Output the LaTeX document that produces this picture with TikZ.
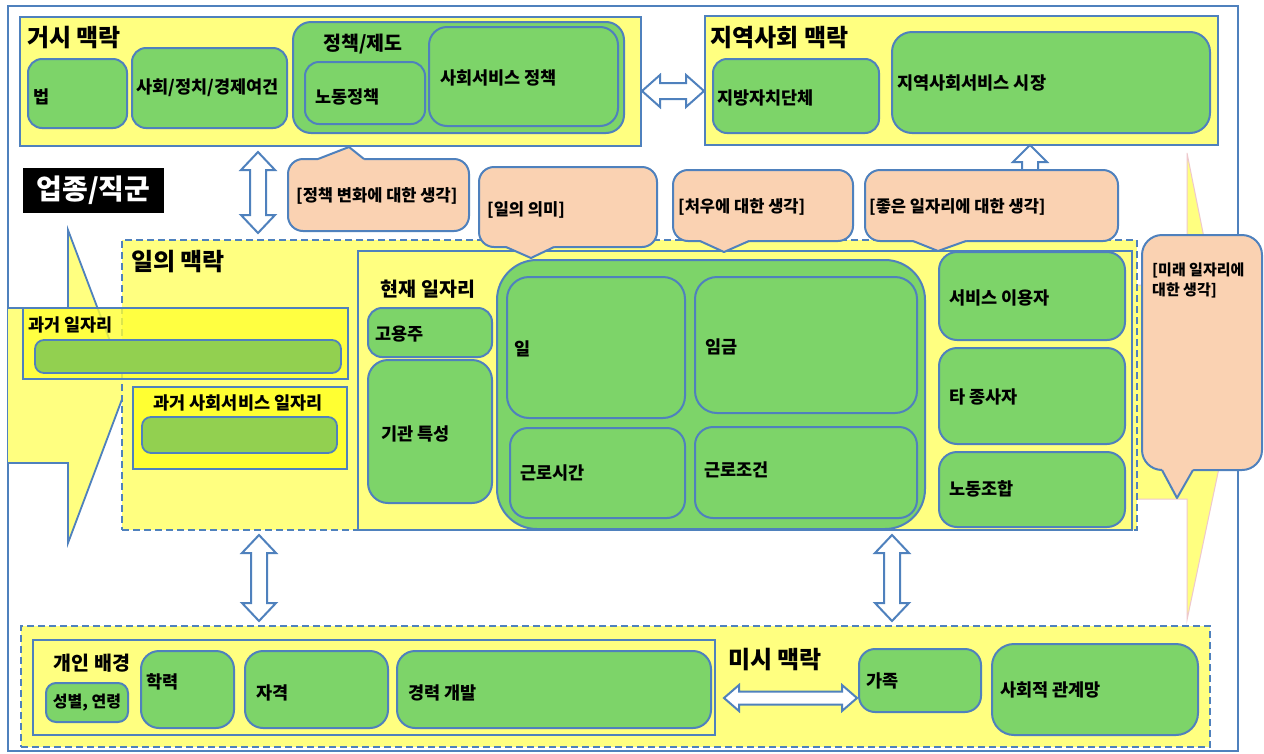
\documentclass[tikz,border=0pt]{standalone}
\usepackage{fontspec}
\setmainfont{Noto Sans CJK KR}
\definecolor{bl}{RGB}{79,129,189}
\definecolor{gr}{RGB}{125,212,105}
\definecolor{yl}{RGB}{255,255,128}
\definecolor{ylb}{RGB}{255,255,50}
\definecolor{og}{RGB}{146,208,80}
\definecolor{pc}{RGB}{250,210,178}
\definecolor{pk}{RGB}{238,200,205}
\tikzset{
  gbox/.style={draw=bl, fill=gr, line width=2pt, rounded corners=14pt},
  ybox/.style={draw=bl, fill=yl, line width=1.6pt},
  dbox/.style={draw=bl, fill=yl, line width=2pt, dash pattern=on 7pt off 4pt},
  obar/.style={draw=bl, fill=og, line width=1.8pt, rounded corners=9pt},
  cbox/.style={draw=bl, fill=pc, line width=2pt, rounded corners=15pt},
  cline/.style={draw=bl, line width=2pt, line join=round},
  barrow/.style={draw=bl, fill=white, line width=2pt, line join=miter},
  lbl/.style={font=\fontsize{17.5}{20}\selectfont\bfseries, inner sep=0pt, anchor=west},
  clbl/.style={font=\fontsize{16.5}{20}\selectfont\bfseries, inner sep=0pt, anchor=west},
  sec/.style={font=\fontsize{24}{26}\selectfont\bfseries, inner sep=0pt, anchor=west},
  mid/.style={font=\fontsize{19.5}{22}\selectfont\bfseries, inner sep=0pt},
}
\newcommand\mkbox[6]{\node[#1, anchor=north west, inner sep=0pt, outer sep=0pt,
  minimum width={#5-#3}, minimum height={#6-#4}] (#2) at (#3,#4) {};}
\newcommand\hdarrow[6]{\draw[barrow] (#1,#3) -- ({#1+#6},{#3-#4}) -- ({#1+#6},{#3-#5}) -- ({#2-#6},{#3-#5}) -- ({#2-#6},{#3-#4}) -- (#2,#3) -- ({#2-#6},{#3+#4}) -- ({#2-#6},{#3+#5}) -- ({#1+#6},{#3+#5}) -- ({#1+#6},{#3+#4}) -- cycle;}
\newcommand\vdarrow[6]{\draw[barrow] (#1,#2) -- ({#1+#4},{#2+#6}) -- ({#1+#5},{#2+#6}) -- ({#1+#5},{#3-#6}) -- ({#1+#4},{#3-#6}) -- (#1,#3) -- ({#1-#4},{#3-#6}) -- ({#1-#5},{#3-#6}) -- ({#1-#5},{#2+#6}) -- ({#1-#4},{#2+#6}) -- cycle;}
\begin{document}
\begin{tikzpicture}[x=1pt, y=-1pt]
\useasboundingbox (0,0) rectangle (1264,753);
% frame
\mkbox{draw=bl, fill=white, line width=1.5pt}{frame}{8}{6}{1238}{751}
% big background arrows
\draw[fill=yl, draw=pk, line width=1pt] (1100,285) -- (1187,285) -- (1187,153) -- (1235,392) -- (1187,620) -- (1187,499) -- (1100,499) -- cycle;
\draw[fill=yl, draw=bl, line width=1.8pt] (8,308) -- (68,308) -- (68,230) -- (127,386) -- (68,543) -- (68,463) -- (8,463);
% macro context
\mkbox{ybox}{macro}{20}{17}{641}{146}
\node[sec] (t-macro) at (27,38) {거시 맥락};
\mkbox{gbox}{law}{28}{59}{127}{128}
\node[lbl] (t-law) at (33,97) {법};
\mkbox{gbox}{spe}{132}{48}{287}{128}
\node[lbl] (t-spe) at (136,88) {사회/정치/경제여건};
\mkbox{gbox, rounded corners=18pt}{policy}{293}{22}{624}{133}
\node[mid] (t-policy) at (363,44) {정책/제도};
\mkbox{gbox}{labor}{305}{62}{425}{124}
\node[lbl] (t-labor) at (315,97) {노동정책};
\mkbox{gbox, rounded corners=18pt}{sspol}{429}{27}{618}{126}
\node[lbl] (t-sspol) at (440,78) {사회서비스 정책};
% community context
\mkbox{ybox}{comm}{705}{16}{1218}{145}
\node[sec] (t-comm) at (710,38) {지역사회 맥락};
\mkbox{gbox}{local}{713}{59}{879}{133}
\node[lbl] (t-local) at (717,98) {지방자치단체};
\mkbox{gbox, rounded corners=20pt}{market}{892}{32}{1210}{133}
\node[lbl] (t-market) at (897,83) {지역사회서비스 시장};
% work context
\mkbox{dbox}{work}{122}{240}{1137}{530}
\node[sec] (t-work) at (131,262) {일의 맥락};
\mkbox{ybox}{cur}{358}{251}{1132}{530}
\node[mid] (t-cur) at (428,289) {현재 일자리};
\mkbox{gbox}{emp}{368}{308}{492}{357}
\node[lbl] (t-emp) at (375,334) {고용주};
\mkbox{gbox, rounded corners=20pt}{inst}{368}{360}{492}{503}
\node[lbl] (t-inst) at (381,434) {기관 특성};
\mkbox{gbox, rounded corners=40pt}{core}{497}{260}{925}{529}
\mkbox{gbox, rounded corners=22pt}{job}{507}{277}{685}{418}
\node[lbl] (t-job) at (514,349) {일};
\mkbox{gbox, rounded corners=22pt}{wage}{695}{277}{917}{413}
\node[lbl] (t-wage) at (705,347) {임금};
\mkbox{gbox, rounded corners=18pt}{hours}{510}{428}{685}{518}
\node[lbl] (t-hours) at (520,473) {근로시간};
\mkbox{gbox, rounded corners=18pt}{cond}{695}{427}{917}{518}
\node[lbl] (t-cond) at (704,470) {근로조건};
\mkbox{gbox, rounded corners=18pt}{user}{939}{252}{1125}{340}
\node[lbl] (t-user) at (949,298) {서비스 이용자};
\mkbox{gbox, rounded corners=18pt}{other}{939}{348}{1125}{444}
\node[lbl] (t-other) at (949,397) {타 종사자};
\mkbox{gbox, rounded corners=18pt}{union}{939}{452}{1125}{527}
\node[lbl] (t-union) at (949,489) {노동조합};
% past jobs
\mkbox{draw=bl, fill=ylb, fill opacity=0.8, line width=1.8pt}{past}{23}{308}{348}{379}
\node[lbl] (t-past) at (28,325) {과거 일자리};
\mkbox{obar}{pastbar}{35}{340}{341}{373}
\mkbox{draw=bl, fill=ylb, line width=1.8pt}{pastss}{133}{387}{347}{469}
\node[lbl, anchor=center] (t-pastss) at (238,403) {과거 사회서비스 일자리};
\mkbox{obar}{pastssbar}{142}{417}{337}{453}
% micro context
\mkbox{dbox}{micro}{21}{626}{1210}{747}
\mkbox{draw=bl, fill=yl, line width=1.8pt}{pers}{33}{640}{715}{735}
\node[mid] (t-pers) at (92,663) {개인 배경};
\mkbox{gbox, rounded corners=10pt}{sex}{46}{683}{128}{722}
\node[lbl, anchor=center, font=\fontsize{16}{18}\selectfont\bfseries] (t-sex) at (87,703) {성별, 연령};
\mkbox{gbox, rounded corners=18pt}{edu}{141}{651}{234}{728}
\node[lbl] (t-edu) at (146,682) {학력};
\mkbox{gbox, rounded corners=18pt}{cert}{245}{651}{388}{728}
\node[lbl] (t-cert) at (256,693) {자격};
\mkbox{gbox, rounded corners=18pt}{career}{397}{651}{711}{728}
\node[lbl] (t-career) at (408,693) {경력 개발};
\node[sec] (t-micro) at (728,660) {미시 맥락};
\mkbox{gbox, rounded corners=16pt}{family}{859}{649}{981}{712}
\node[lbl] (t-family) at (866,681) {가족};
\mkbox{gbox, rounded corners=22pt}{social}{992}{644}{1198}{735}
\node[lbl] (t-social) at (1000,690) {사회적 관계망};
% block arrows
\hdarrow{642}{704}{91}{16}{8}{18}
\vdarrow{258}{152}{233}{17}{8}{18}
\vdarrow{259}{535}{621}{17}{8}{18}
\vdarrow{892}{535}{621}{17}{8}{18}
\hdarrow{724}{857}{698}{13}{6.5}{15}
\draw[barrow] (1030,145) -- (1047,162) -- (1038,162) -- (1038,172) -- (1022,172) -- (1022,162) -- (1013,162) -- cycle;
% callouts
\mkbox{cbox}{c1}{288}{159}{469}{231}
\fill[pc] (318,162) -- (318,159) -- (349,147) -- (364,159) -- (364,162) -- cycle;
\draw[cline] (318,159) -- (349,147) -- (364,159);
\node[clbl] (t-c1) at (296,196) {[정책 변화에 대한 생각]};
\mkbox{cbox}{c2}{479}{167}{657}{247}
\fill[pc] (506,244) -- (506,247) -- (531,258) -- (554,247) -- (554,244) -- cycle;
\draw[cline] (506,247) -- (531,258) -- (554,247);
\node[clbl] (t-c2) at (487,210) {[일의 의미]};
\mkbox{cbox}{c3}{673}{170}{853}{241}
\fill[pc] (700,238) -- (700,241) -- (724,252) -- (749,241) -- (749,238) -- cycle;
\draw[cline] (700,241) -- (724,252) -- (749,241);
\node[clbl] (t-c3) at (678,207) {[처우에 대한 생각]};
\mkbox{cbox}{c4}{865}{170}{1118}{241}
\fill[pc] (913,238) -- (913,241) -- (938,251) -- (966,241) -- (966,238) -- cycle;
\draw[cline] (913,241) -- (938,251) -- (966,241);
\node[clbl] (t-c4) at (869,207) {[좋은 일자리에 대한 생각]};
\mkbox{cbox, rounded corners=20pt}{c5}{1142}{235}{1262}{470}
\fill[pc] (1162,467) -- (1162,470) -- (1177,498) -- (1193,470) -- (1193,467) -- cycle;
\draw[cline] (1162,470) -- (1177,498) -- (1193,470);
\node[clbl, anchor=north west, align=left, font=\fontsize{15}{20}\selectfont\bfseries] (t-c5) at (1152,263) {[미래 일자리에\\대한 생각]};
% occupation label
\mkbox{fill=black}{occ}{23}{168}{164}{213}
\node[font=\fontsize{28}{30}\selectfont\bfseries, text=white, inner sep=0pt] (t-occ) at (occ.center) {업종/직군};
\end{tikzpicture}
\end{document}
